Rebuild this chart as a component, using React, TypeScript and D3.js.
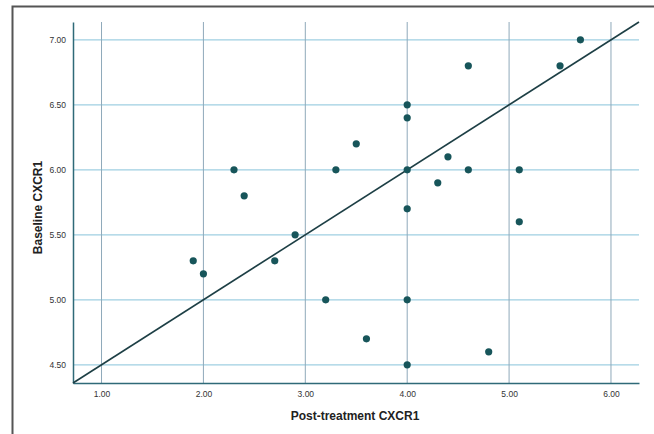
import React, { useEffect, useRef } from "react";
import * as d3 from "d3";

// post-treatment (x) vs baseline (y) CXCR1
const postTreatment = [5.7, 4.6, 5.5, 4.0, 4.0, 3.5, 2.3, 3.3, 4.0, 4.6, 5.1, 4.4, 4.3, 2.4, 4.0, 5.1, 2.9, 2.7, 1.9, 2.0, 3.2, 4.0, 3.6, 4.8, 4.0];
const baseline = [7.0, 6.8, 6.8, 6.5, 6.4, 6.2, 6.0, 6.0, 6.0, 6.0, 6.0, 6.1, 5.9, 5.8, 5.7, 5.6, 5.5, 5.3, 5.3, 5.2, 5.0, 5.0, 4.7, 4.6, 4.5];
const xTicks = [1, 2, 3, 4, 5, 6];
const yTicks = [4.5, 5, 5.5, 6, 6.5, 7];
// reference line y = 4 + 0.5x
const lineX = [0.72, 6.275];

export default function App() {
  const ref = useRef<SVGSVGElement>(null);

  useEffect(() => {
    const svg = d3.select(ref.current);
    svg.selectAll("*").remove();

    const left = 73, right = 639, top = 22, bottom = 383;
    const x = d3.scaleLinear().domain([0.72, 6.275]).range([left, right]);
    const y = d3.scaleLinear().domain([4.36, 7.1375]).range([bottom, top]);

    svg.append("rect").attr("width", 654).attr("height", 434).attr("fill", "#fff");
    svg.append("rect")
      .attr("x", 12.5).attr("y", 6.5).attr("width", 660).attr("height", 440)
      .attr("fill", "none").attr("stroke", "#555").attr("stroke-width", 2);

    // gridlines
    svg.append("g").selectAll("line").data(yTicks).enter().append("line")
      .attr("x1", left).attr("x2", right)
      .attr("y1", (d) => y(d)).attr("y2", (d) => y(d))
      .attr("stroke", "#9fcfe2").attr("stroke-width", 1.2);
    svg.append("g").selectAll("line").data(xTicks).enter().append("line")
      .attr("x1", (d) => x(d)).attr("x2", (d) => x(d))
      .attr("y1", top).attr("y2", bottom)
      .attr("stroke", "#8fa9ba").attr("stroke-width", 1);

    // axes
    const xAxis = svg.append("g").attr("transform", `translate(0, ${bottom})`)
      .call(d3.axisBottom(x).tickValues(xTicks).tickFormat(d3.format(".2f")).tickSize(0).tickPadding(8));
    const yAxis = svg.append("g").attr("transform", `translate(${left}, 0)`)
      .call(d3.axisLeft(y).tickValues(yTicks).tickFormat(d3.format(".2f")).tickSize(0).tickPadding(7));
    [xAxis, yAxis].forEach((a) => {
      a.select(".domain").attr("stroke", "#2f6a78").attr("stroke-width", 1.5);
      a.selectAll("text")
        .attr("font-family", "'Liberation Sans', Arial, sans-serif")
        .attr("font-size", 8.5).attr("fill", "#333");
    });

    // reference line
    svg.append("line")
      .attr("x1", x(lineX[0])).attr("y1", y(4 + 0.5 * lineX[0]))
      .attr("x2", x(lineX[1])).attr("y2", y(4 + 0.5 * lineX[1]))
      .attr("stroke", "#1d3f45").attr("stroke-width", 1.6);

    // points
    svg.append("g").selectAll("circle").data(postTreatment).enter().append("circle")
      .attr("cx", (d) => x(d))
      .attr("cy", (d, i) => y(baseline[i]))
      .attr("r", 3.6)
      .attr("fill", "#17555a");

    // titles
    const titleFont = "'Liberation Sans', Arial, sans-serif";
    svg.append("text")
      .attr("x", 355).attr("y", 420)
      .attr("text-anchor", "middle")
      .attr("font-family", titleFont)
      .attr("font-weight", "bold").attr("font-size", 12).attr("fill", "#222")
      .text("Post-treatment CXCR1");
    svg.append("text")
      .attr("transform", `translate(42, ${(top + bottom) / 2 + 5}) rotate(-90)`)
      .attr("text-anchor", "middle")
      .attr("font-family", titleFont)
      .attr("font-weight", "bold").attr("font-size", 12).attr("fill", "#222")
      .text("Baseline CXCR1");
  }, []);

  return (
    <svg ref={ref} width={654} height={434}
      style={{ position: "absolute", left: 0, top: 0, display: "block" }} />
  );
}
